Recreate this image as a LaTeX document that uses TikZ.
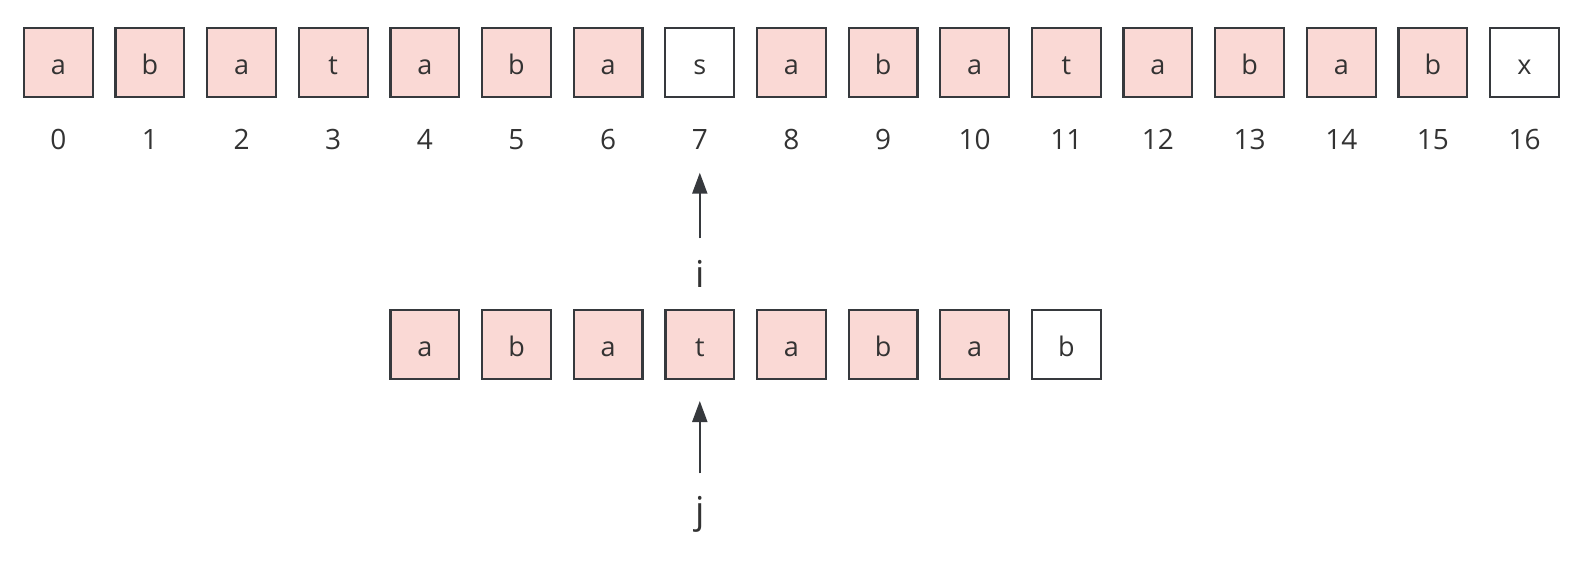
\documentclass[tikz,border=0pt]{standalone}
\usepackage{fontspec}
\setmainfont{Open Sans}
\usetikzlibrary{arrows.meta}
\definecolor{hitpink}{HTML}{FAD9D5}
\definecolor{edge}{HTML}{36393D}
\definecolor{ink}{HTML}{333333}

\begin{document}
\begin{tikzpicture}[x=0.5pt,y=-0.5pt,
    cell/.style={draw=edge, line width=1.1pt, minimum size=34.4pt, inner sep=0pt,
      text=ink, text height=11.7pt, text depth=0pt, font=\fontsize{13.5}{15}\selectfont},
    hit/.style={cell, fill=hitpink},
    idx/.style={anchor=base, text=ink, font=\fontsize{14}{16}\selectfont},
    lbl/.style={anchor=base, text=ink, font=\fontsize{18.5}{22}\selectfont},
    ptr/.style={draw=edge, line width=1pt, -{Triangle[length=10.5pt,width=7.5pt]}}]
    \useasboundingbox (0,0) rectangle (1592,573);

    % Text string with its indices
    \foreach \ch/\st [count=\k from 0] in {a/hit,b/hit,a/hit,t/hit,a/hit,b/hit,a/hit,s/cell,a/hit,b/hit,a/hit,t/hit,a/hit,b/hit,a/hit,b/hit,x/cell} {
        \node[\st] (t\k) at ({58.3+91.64*\k},62.3) {\ch};
        \node[idx] (n\k) at ({58.3+91.64*\k},149) {\k};
    }

    % Pattern string
    \foreach \ch/\st [count=\k from 0] in {a/hit,b/hit,a/hit,t/hit,a/hit,b/hit,a/hit,b/cell} {
        \node[\st] (p\k) at ({424.9+91.64*\k},344.5) {\ch};
    }

    % Pointer i
    \node[lbl] (i) at (699.8,287) {i};
    \coordinate (iTail) at (699.8,238.3);
    \coordinate (iHead) at (699.8,172.7);
    \draw[ptr] (iTail) -- (iHead);

    % Pointer j
    \node[lbl] (j) at (699.8,523) {j};
    \coordinate (jTail) at (699.8,473.3);
    \coordinate (jHead) at (699.8,401);
    \draw[ptr] (jTail) -- (jHead);
\end{tikzpicture}
\end{document}
